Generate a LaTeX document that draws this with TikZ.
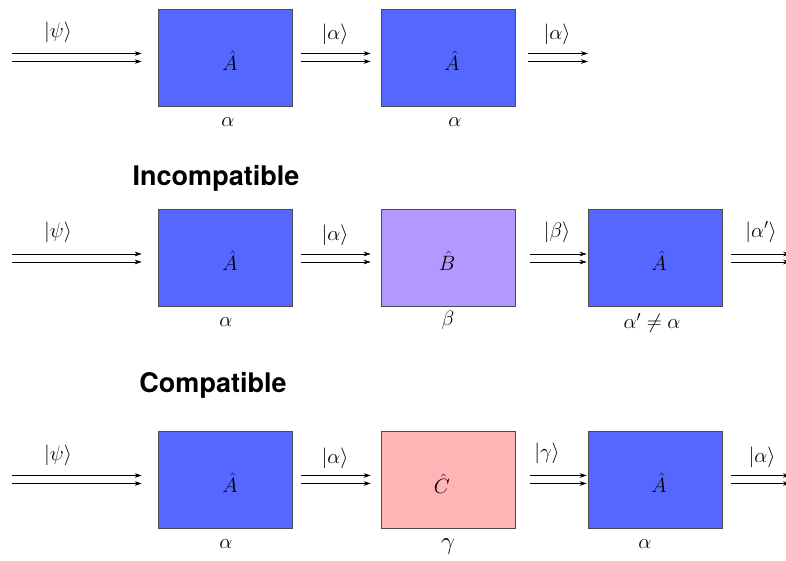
\documentclass[tikz,border=0pt]{standalone}
\usepackage{fontspec}
\newfontfamily\headfont{TeX Gyre Heros}
\usetikzlibrary{arrows.meta}
\definecolor{opA}{HTML}{5468FF}
\definecolor{opB}{HTML}{B399FF}
\definecolor{opC}{HTML}{FFB5B5}
\tikzset{
  opbox/.style={draw=black!70, line width=0.6pt, minimum width=134pt, minimum height=97pt, inner sep=0pt},
  oplabel/.style={font=\fontsize{21}{24}\selectfont, inner sep=0pt},
  ket/.style={font=\fontsize{21}{24}\selectfont, inner sep=0pt},
  val/.style={font=\fontsize{21}{24}\selectfont, inner sep=0pt},
  head/.style={font=\headfont\bfseries\fontsize{27}{32}\selectfont, inner sep=0pt},
  beam/.style={-{Stealth[length=7pt,width=4.5pt]}, line width=0.6pt}
}
% #1 start point, #2 its x shift, #3 end point, #4 its x shift
\newcommand{\beampair}[4]{%
  \draw[beam] ([xshift=#2,yshift=4pt]#1) -- ([xshift=#4,yshift=4pt]#3);
  \draw[beam] ([xshift=#2,yshift=-4pt]#1) -- ([xshift=#4,yshift=-4pt]#3);}
\begin{document}
\begin{tikzpicture}[x=1pt,y=-1pt]
\useasboundingbox (0,0) rectangle (786,561);
% Row 1
\node[opbox, fill=opA] (a1) at (225,57.5) {};
\node[opbox, fill=opA] (a2) at (448,57.5) {};
\node[oplabel] (la1) at (230,61) {$\hat A$};
\node[oplabel] (la2) at (452,61) {$\hat A$};
\coordinate (s1) at (12,57.5);
\coordinate (e1) at (588,57.5);
\beampair{s1}{0pt}{a1.west}{-16pt}
\beampair{a1.east}{9pt}{a2.west}{-10pt}
\beampair{a2.east}{13pt}{e1}{0pt}
\node[ket] (k11) at (58,32) {$|\psi\rangle$};
\node[ket] (k12) at (335,34) {$|\alpha\rangle$};
\node[ket] (k13) at (557,34) {$|\alpha\rangle$};
\node[val] (v11) at (228,122) {$\alpha$};
\node[val] (v12) at (455,122) {$\alpha$};
% Row 2
\node[head] (h2) at (216,178) {Incompatible};
\node[opbox, fill=opA] (b1) at (225,258) {};
\node[opbox, fill=opB] (b2) at (448,258) {};
\node[opbox, fill=opA] (b3) at (655,258) {};
\node[oplabel] (lb1) at (230,261) {$\hat A$};
\node[oplabel] (lb2) at (447,261) {$\hat B$};
\node[oplabel] (lb3) at (659,261) {$\hat A$};
\coordinate (s2) at (12,258);
\coordinate (e2) at (790,258);
\beampair{s2}{0pt}{b1.west}{-16pt}
\beampair{b1.east}{9pt}{b2.west}{-10pt}
\beampair{b2.east}{15pt}{b3.west}{-1pt}
\beampair{b3.east}{9pt}{e2}{0pt}
\node[ket] (k21) at (58,232) {$|\psi\rangle$};
\node[ket] (k22) at (335,235) {$|\alpha\rangle$};
\node[ket] (k23) at (557,232) {$|\beta\rangle$};
\node[ket] (k24) at (761,232) {$|\alpha'\rangle$};
\node[val] (v21) at (226,322) {$\alpha$};
\node[val] (v22) at (448,320) {$\beta$};
\node[val] (v23) at (652,323) {$\alpha'\neq\alpha$};
% Row 3
\node[head] (h3) at (213,385) {Compatible};
\node[opbox, fill=opA] (c1) at (225,479.5) {};
\node[opbox, fill=opC] (c2) at (448,479.5) {};
\node[opbox, fill=opA] (c3) at (655,479.5) {};
\node[oplabel] (lc1) at (230,483) {$\hat A$};
\node[oplabel] (lc2) at (442,484) {$\hat C$};
\node[oplabel] (lc3) at (659,483) {$\hat A$};
\coordinate (s3) at (12,479.5);
\coordinate (e3) at (790,479.5);
\beampair{s3}{0pt}{c1.west}{-16pt}
\beampair{c1.east}{9pt}{c2.west}{-10pt}
\beampair{c2.east}{15pt}{c3.west}{-1pt}
\beampair{c3.east}{9pt}{e3}{0pt}
\node[ket] (k31) at (58,455) {$|\psi\rangle$};
\node[ket] (k32) at (335,458) {$|\alpha\rangle$};
\node[ket] (k33) at (547,453) {$|\gamma\rangle$};
\node[ket] (k34) at (762,457) {$|\alpha\rangle$};
\node[val] (v31) at (226,544) {$\alpha$};
\node[val, font=\fontsize{25}{28}\selectfont] (v32) at (448,547) {$\gamma$};
\node[val] (v33) at (645,544) {$\alpha$};
\end{tikzpicture}
\end{document}
